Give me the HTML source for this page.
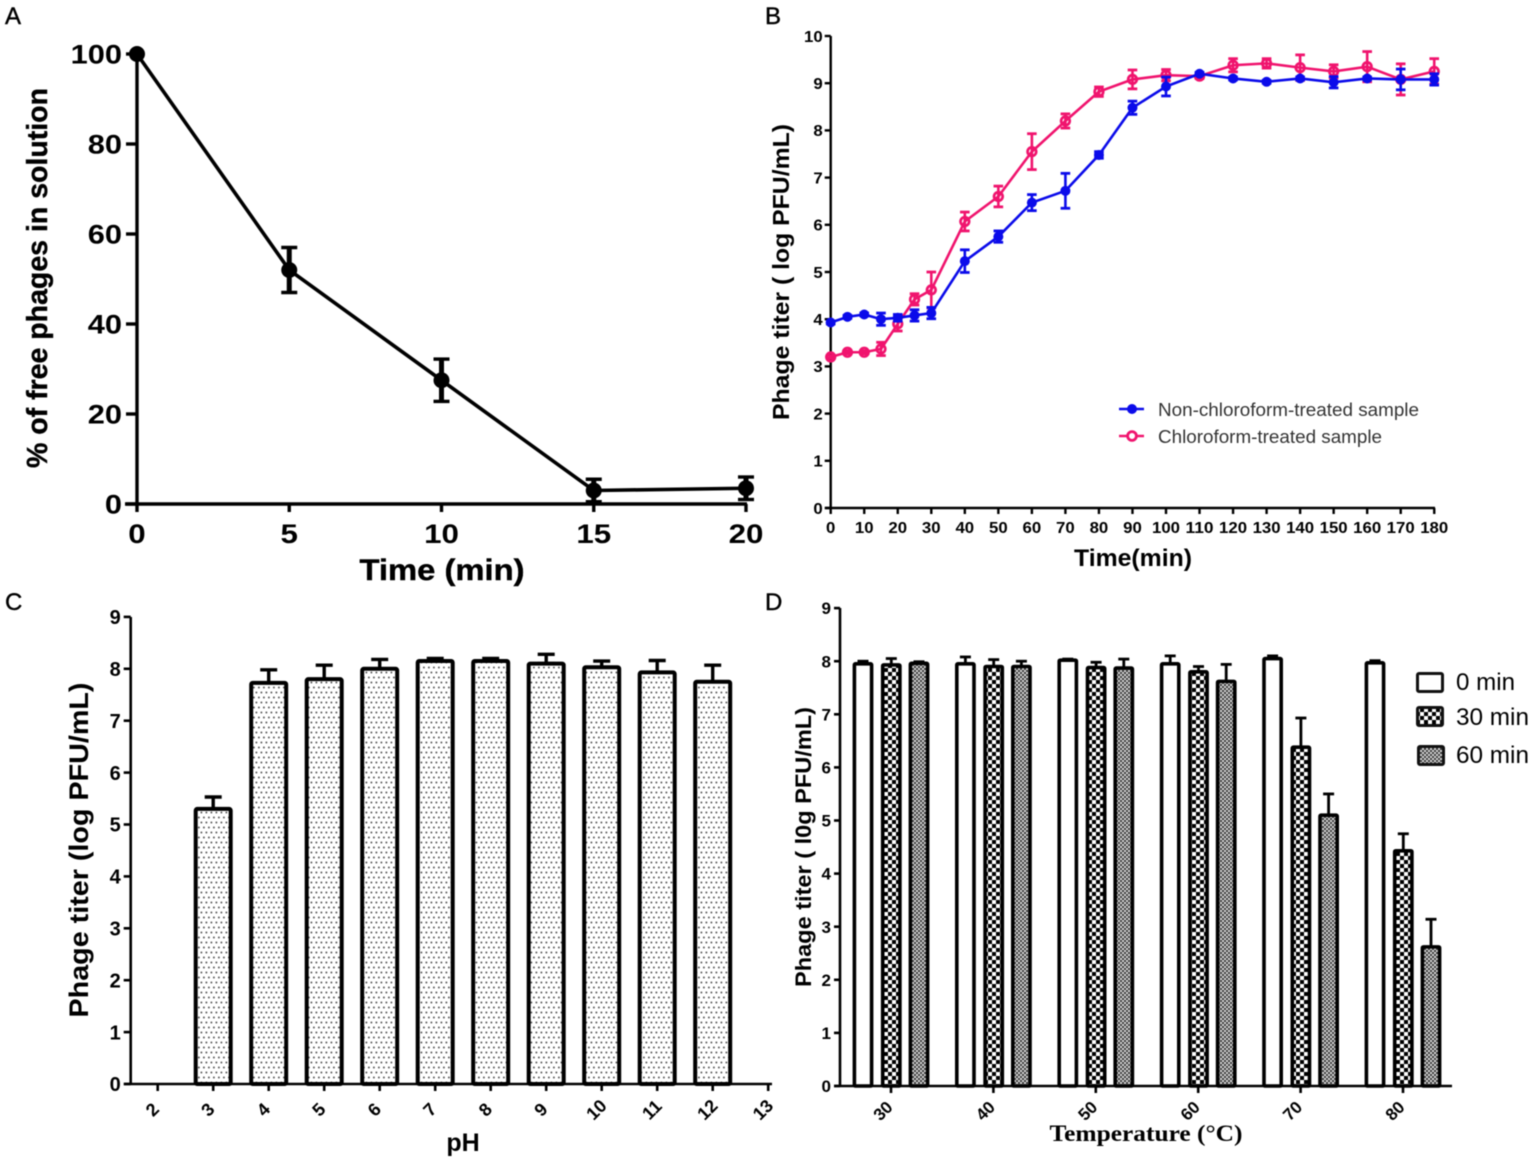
<!DOCTYPE html>
<html lang="en">
<head>
<meta charset="utf-8">
<title>Phage characterization panels</title>
<style>
html,body{margin:0;padding:0;background:#fff;}
#figure{display:block;width:1535px;height:1163px;filter:blur(0.5px);}
text{font-family:"Liberation Sans",Arial,sans-serif;fill:#000;}
.b{font-weight:700;}
.h{font-weight:700;stroke:#000;stroke-width:0.4px;}
</style>
</head>
<body>
<svg id="figure" xmlns="http://www.w3.org/2000/svg" width="1535" height="1163" viewBox="0 0 1535 1163">
<defs>
<pattern id="dots" width="5" height="10" patternUnits="userSpaceOnUse">
<rect width="5" height="10" fill="#fff"/>
<circle cx="1.4" cy="2.5" r="0.95" fill="#555"/>
<circle cx="3.9" cy="7.5" r="0.95" fill="#555"/>
</pattern>
<pattern id="check" width="8" height="8" patternUnits="userSpaceOnUse">
<rect width="8" height="8" fill="#fff"/>
<rect width="4" height="4" fill="#000"/>
<rect x="4" y="4" width="4" height="4" fill="#000"/>
</pattern>
<pattern id="fine" width="4" height="4" patternUnits="userSpaceOnUse">
<rect width="4" height="4" fill="#d8d8d8"/>
<rect width="2" height="2" fill="#3a3a3a"/>
<rect x="2" y="2" width="2" height="2" fill="#3a3a3a"/>
</pattern>
</defs>

<rect x="0" y="0" width="1535" height="1163" fill="#fff"/>

<text class="h" style="font-weight:400" x="5" y="24" font-size="24">A</text>
<text class="h" style="font-weight:400" x="765" y="24" font-size="24">B</text>
<text class="h" style="font-weight:400" x="5" y="610" font-size="24">C</text>
<text class="h" style="font-weight:400" x="765" y="610" font-size="24">D</text>

<g id="chart-a"></g>
<text class="h" transform="translate(47,278) rotate(-90)" text-anchor="middle" font-size="29" textLength="380" lengthAdjust="spacingAndGlyphs">% of free phages in solution</text>
<text class="h" x="442" y="580" text-anchor="middle" font-size="30" textLength="165" lengthAdjust="spacingAndGlyphs">Time (min)</text>

<g id="chart-b"></g>
<text class="b" transform="translate(789,272) rotate(-90)" text-anchor="middle" font-size="23" textLength="296" lengthAdjust="spacingAndGlyphs">Phage titer ( log PFU/mL)</text>
<text class="b" x="1133" y="566" text-anchor="middle" font-size="24" textLength="118" lengthAdjust="spacingAndGlyphs">Time(min)</text>
<g>
<g>
<line x1="1119" x2="1144" y1="409" y2="409" stroke="#0b0bea" stroke-width="2.6"/>
<circle cx="1132" cy="409" r="5" fill="#0b0bea"/>
<text x="1158" y="416" font-size="18" style="fill:#333" textLength="261" lengthAdjust="spacingAndGlyphs">Non-chloroform-treated sample</text>
</g>
<g>
<line x1="1119" x2="1144" y1="436" y2="436" stroke="#f0146e" stroke-width="2.6"/>
<circle cx="1132" cy="436" r="4.4" fill="#fff" stroke="#f0146e" stroke-width="2.8"/>
<text x="1158" y="443" font-size="18" style="fill:#333" textLength="224" lengthAdjust="spacingAndGlyphs">Chloroform-treated sample</text>
</g>
</g>

<g id="chart-c"></g>
<text class="b" transform="translate(88,850) rotate(-90)" text-anchor="middle" font-size="27" textLength="335" lengthAdjust="spacingAndGlyphs">Phage titer (log PFU/mL)</text>
<text class="b" x="463" y="1151" text-anchor="middle" font-size="25">pH</text>

<g id="chart-d"></g>
<text class="b" transform="translate(811,847) rotate(-90)" text-anchor="middle" font-size="22" textLength="280" lengthAdjust="spacingAndGlyphs">Phage titer ( l0g PFU/mL)</text>
<text class="b" x="1146" y="1141" text-anchor="middle" font-size="23" textLength="193" lengthAdjust="spacingAndGlyphs" style="font-family:'Liberation Serif',serif">Temperature (°C)</text>
<g>
<g>
<rect x="1417.5" y="673.5" width="25" height="18" rx="1.5" fill="#fff" stroke="#111" stroke-width="3"/>
<text x="1456" y="690" font-size="24" textLength="59" lengthAdjust="spacingAndGlyphs">0 min</text>
</g>
<g>
<rect x="1417.5" y="707.5" width="25" height="18" rx="1.5" fill="url(#check)" stroke="#111" stroke-width="3"/>
<text x="1456" y="725" font-size="24" textLength="73" lengthAdjust="spacingAndGlyphs">30 min</text>
</g>
<g>
<rect x="1418.5" y="746.5" width="25" height="18" rx="1.5" fill="url(#fine)" stroke="#111" stroke-width="3"/>
<text x="1456" y="763" font-size="24" textLength="73" lengthAdjust="spacingAndGlyphs">60 min</text>
</g>
</g>
</svg>

<script>
// ---- Panel A data ----
const aTimes = [0, 5, 10, 15, 20];
const aValues = [100, 52, 27.5, 3, 3.5];
const aErrors = [0, 5, 4.7, 2.5, 2.5];
const aYTicks = [0, 20, 40, 60, 80, 100];

// ---- Panel B data ----
const bTimes = [0, 5, 10, 15, 20, 25, 30, 40, 50, 60, 70, 80, 90, 100, 110, 120, 130, 140, 150, 160, 170, 180];
const bBlueValues = [3.93, 4.05, 4.1, 4.0, 4.03, 4.08, 4.13, 5.23, 5.75, 6.47, 6.72, 7.48, 8.48, 8.93, 9.2, 9.1, 9.03, 9.1, 9.02, 9.1, 9.08, 9.08];
const bBlueErrors = [0.03, 0.03, 0.03, 0.13, 0.07, 0.12, 0.12, 0.24, 0.12, 0.17, 0.37, 0.07, 0.14, 0.2, 0.03, 0.03, 0.03, 0.03, 0.12, 0.03, 0.22, 0.12];
const bPinkValues = [3.2, 3.3, 3.3, 3.37, 3.9, 4.42, 4.62, 6.07, 6.6, 7.55, 8.2, 8.82, 9.08, 9.17, 9.15, 9.38, 9.42, 9.33, 9.25, 9.35, 9.08, 9.25];
const bPinkErrors = [0.03, 0.03, 0.03, 0.14, 0.15, 0.12, 0.38, 0.2, 0.22, 0.38, 0.15, 0.1, 0.2, 0.12, 0.05, 0.14, 0.1, 0.27, 0.14, 0.32, 0.33, 0.27];
const bXTicks = [0, 10, 20, 30, 40, 50, 60, 70, 80, 90, 100, 110, 120, 130, 140, 150, 160, 170, 180];
const bYTicks = [0, 1, 2, 3, 4, 5, 6, 7, 8, 9, 10];

// ---- Panel C data ----
const cCategories = [2, 3, 4, 5, 6, 7, 8, 9, 10, 11, 12, 13];
const cValues = [null, 5.3, 7.73, 7.8, 8.0, 8.15, 8.15, 8.1, 8.03, 7.93, 7.75, null];
const cErrors = [null, 0.23, 0.25, 0.27, 0.18, 0.05, 0.05, 0.18, 0.12, 0.23, 0.32, null];
const cYTicks = [0, 1, 2, 3, 4, 5, 6, 7, 8, 9];

// ---- Panel D data ----
const dCategories = [30, 40, 50, 60, 70, 80];
const dValues0 = [7.95, 7.95, 8.02, 7.95, 8.05, 7.97];
const dErrors0 = [0.05, 0.13, 0.02, 0.15, 0.05, 0.04];
const dValues30 = [7.93, 7.9, 7.88, 7.8, 6.38, 4.43];
const dErrors30 = [0.12, 0.13, 0.1, 0.1, 0.55, 0.32];
const dValues60 = [7.96, 7.9, 7.87, 7.62, 5.1, 2.62];
const dErrors60 = [0.03, 0.1, 0.17, 0.32, 0.4, 0.52];
const dYTicks = [0, 1, 2, 3, 4, 5, 6, 7, 8, 9];

const NS = 'http://www.w3.org/2000/svg';
function el(tag, attrs, parent, txt) {
  const n = document.createElementNS(NS, tag);
  for (const k in attrs) n.setAttribute(k, attrs[k]);
  if (txt !== undefined) n.textContent = txt;
  parent.appendChild(n);
  return n;
}

// Axis scales
const xA = v => 137 + v * 30.45;
const yA = v => 504 - v * 4.5;
const xB = v => 830.7 + v * 3.353;
const yB = v => 508 - v * 47.2;
const xC = v => 157.7 + (v - 2) * 55.5;
const yC = v => 1084 - v * 51.9;
const xD = v => 891 + (v - 30) * 10.24;
const yD = v => 1086 - v * 53.1;

function stretchAttrs(attrs, value, fs, stretch) {
  if (stretch && stretch !== 1) {
    attrs.textLength = String(value).length * fs * 0.556 * stretch;
    attrs.lengthAdjust = 'spacingAndGlyphs';
  }
  return attrs;
}

function yAxis(root, prefix, x, y0, y1, ticks, scale, tickLen, sw, fs, labelGap, stretch) {
  const line = el('line', {x1: x, x2: x, y1: y0, y2: y1, stroke: '#000', 'stroke-width': sw}, root);
  
  
  ticks.forEach(t => {
    const tick = el('line', {x1: x - tickLen, x2: x, y1: scale(t), y2: scale(t), stroke: '#000', 'stroke-width': sw}, root);
    
    
    const attrs = stretchAttrs({x: x - tickLen - labelGap, y: scale(t) + fs * 0.36, 'text-anchor': 'end', 'font-size': fs, class: 'b'}, t, fs, stretch);
    const label = el('text', attrs, root, t);
    
    
  });
}

function xAxis(root, prefix, y, x0, x1, ticks, scale, tickLen, sw, fs, labelDy, rotate, labelDx, stretch) {
  const line = el('line', {x1: x0, x2: x1, y1: y, y2: y, stroke: '#000', 'stroke-width': sw}, root);
  
  
  ticks.forEach(t => {
    const tick = el('line', {x1: scale(t), x2: scale(t), y1: y, y2: y + tickLen, stroke: '#000', 'stroke-width': sw}, root);
    
    
    const attrs = stretchAttrs({'text-anchor': 'middle', 'font-size': fs, class: 'b'}, t, fs, stretch);
    if (rotate) {
      attrs.transform = 'translate(' + (scale(t) + (labelDx || 0)) + ',' + (y + labelDy) + ') rotate(' + rotate + ')';
    } else {
      attrs.x = scale(t);
      attrs.y = y + labelDy;
    }
    const label = el('text', attrs, root, t);
    
    
  });
}

function errorBar(root, name, x, yTop, yBot, cap, color, sw, stemW) {
  const g = el('g', {stroke: color, 'stroke-width': sw, fill: 'none'}, root);
  
  
  el('line', {x1: x, x2: x, y1: yTop, y2: yBot, 'stroke-width': stemW || sw}, g);
  el('line', {x1: x - cap, x2: x + cap, y1: yTop, y2: yTop}, g);
  el('line', {x1: x - cap, x2: x + cap, y1: yBot, y2: yBot}, g);
}

// ---- Panel A ----
const rootA = document.getElementById('chart-a');
yAxis(rootA, 'a', 137, 54, 505.5, aYTicks, yA, 11, 3.4, 27, 4, 1.14);
xAxis(rootA, 'a', 504, 125, 747, aTimes, xA, 8, 3.4, 27, 39, 0, 0, 1.16);
const lineA = el('polyline', {points: aTimes.map((t, i) => xA(t) + ',' + yA(aValues[i])).join(' '), fill: 'none', stroke: '#000', 'stroke-width': 3.6}, rootA);


aTimes.forEach((t, i) => {
  if (aErrors[i] > 0) errorBar(rootA, 'a-error-bar', xA(t), yA(aValues[i] + aErrors[i]), yA(aValues[i] - aErrors[i]), 8, '#000', 3.4, 5);
  const dot = el('circle', {cx: xA(t), cy: yA(aValues[i]), r: 8, fill: '#000'}, rootA);
  
  
});

// ---- Panel B ----
const rootB = document.getElementById('chart-b');
yAxis(rootB, 'b', 830.7, 36, 509, bYTicks, yB, 6, 2.4, 16, 2, 1.05);
xAxis(rootB, 'b', 508, 825, 1435, bXTicks, xB, 6, 2.4, 16, 25, 0, 0, 1.05);
function drawSeriesB(prefix, values, errors, color, hollow) {
  const line = el('polyline', {points: bTimes.map((t, i) => xB(t) + ',' + yB(values[i])).join(' '), fill: 'none', stroke: color, 'stroke-width': 2.6}, rootB);
  
  
  bTimes.forEach((t, i) => {
    errorBar(rootB, prefix + '-error-bar', xB(t), yB(values[i] + errors[i]), yB(values[i] - errors[i]), 4.8, color, 2.8, 2.6);
    const attrs = hollow
      ? {cx: xB(t), cy: yB(values[i]), r: 4.3, fill: 'none', stroke: color, 'stroke-width': 2.7}
      : {cx: xB(t), cy: yB(values[i]), r: 5, fill: color};
    const dot = el('circle', attrs, rootB);
    
    
  });
}
drawSeriesB('b-chloroform', bPinkValues, bPinkErrors, '#f0146e', true);
drawSeriesB('b-non-chloroform', bBlueValues, bBlueErrors, '#0b0bea', false);

// ---- Panel C ----
const rootC = document.getElementById('chart-c');
cCategories.forEach((c, i) => {
  if (cValues[i] === null) return;
  errorBar(rootC, 'c-error-bar', xC(c), yC(cValues[i] + cErrors[i]), yC(cValues[i]), 8.5, '#000', 3.4);
  const bar = el('rect', {x: xC(c) - 17.5, y: yC(cValues[i]), width: 35, height: yC(0) - yC(cValues[i]), rx: 1.5, fill: 'url(#dots)', stroke: '#000', 'stroke-width': 4}, rootC);
  
  
});
yAxis(rootC, 'c', 130.7, 617, 1085, cYTicks, yC, 7, 2.6, 20, 3);
xAxis(rootC, 'c', 1084, 124, 772, cCategories, xC, 7, 2.6, 18, 30, -45, -1);

// ---- Panel D ----
const rootD = document.getElementById('chart-d');
function drawBarsD(prefix, values, errors, offset, fill) {
  dCategories.forEach((c, i) => {
    const cx = xD(c) + offset;
    errorBar(rootD, prefix + '-error-bar', cx, yD(values[i] + errors[i]), yD(values[i]), 5.5, '#000', 2.8);
    const bar = el('rect', {x: cx - 8.6, y: yD(values[i]), width: 17.2, height: yD(0) - yD(values[i]), rx: 1, fill: fill, stroke: '#000', 'stroke-width': 3.6}, rootD);
    
    
  });
}
drawBarsD('d-0-min', dValues0, dErrors0, -28, '#fff');
drawBarsD('d-30-min', dValues30, dErrors30, 0.3, 'url(#check)');
drawBarsD('d-60-min', dValues60, dErrors60, 28, 'url(#fine)');
yAxis(rootD, 'd', 840, 608, 1087, dYTicks, yD, 6, 2.6, 17, 3);
xAxis(rootD, 'd', 1086, 834, 1452, dCategories, xD, 7, 2.6, 17, 29, -45, -4);
</script>
</body>
</html>
